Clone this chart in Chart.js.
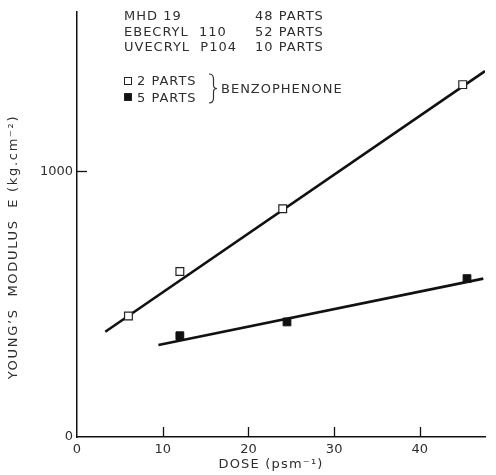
<!DOCTYPE html>
<html>
<head>
<meta charset="utf-8">
<script src="https://cdn.jsdelivr.net/npm/chart.js@4.4.0/dist/chart.umd.min.js"></script>
<style>
  body{margin:0;background:#fff;}
  #wrap{position:relative;width:496px;height:475px;}
  canvas{position:absolute;left:0;top:0;}
  .t{position:absolute;font-family:"DejaVu Sans",sans-serif;font-size:13px;line-height:14px;color:#2e2e2e;letter-spacing:1px;white-space:nowrap;}
  .sq{position:absolute;width:6px;height:6px;border:1.2px solid #222;background:#fff;}
  .sq.f{background:#111;}
</style>
</head>
<body>
<div id="wrap">
  <canvas id="chart" width="496" height="475"></canvas>
  <div class="t" style="left:124px;top:9px">MHD 19</div>
  <div class="t" style="left:124px;top:25px">EBECRYL&nbsp; 110</div>
  <div class="t" style="left:124px;top:40px">UVECRYL&nbsp; P104</div>
  <div class="t" style="left:255px;top:9px">48 PARTS</div>
  <div class="t" style="left:255px;top:25px">52 PARTS</div>
  <div class="t" style="left:255px;top:40px">10 PARTS</div>
  <div class="sq" style="left:124px;top:77px"></div>
  <div class="sq f" style="left:124px;top:93px"></div>
  <div class="t" style="left:137px;top:74px">2 PARTS</div>
  <div class="t" style="left:137px;top:91px">5 PARTS</div>
  <svg style="position:absolute;left:0;top:0" width="496" height="120">
    <path d="M209,74 Q213.5,74 213.5,79 L213.5,85 Q213.5,88.5 217,88.5 Q213.5,88.5 213.5,92 L213.5,98 Q213.5,103 209,103" fill="none" stroke="#333" stroke-width="1.2"/>
  </svg>
  <div class="t" style="left:221px;top:82px">BENZOPHENONE</div>
</div>
<script>
// data
const dose2 = [6, 12, 24, 45];
const modulus2 = [455, 623, 859, 1326];
const dose5 = [12, 24.5, 45.5];
const modulus5 = [381, 433, 596];
// fitted lines (end points)
const fit2Dose = [3.3, 47.6];
const fit2Mod = [396, 1377];
const fit5Dose = [9.5, 47.4];
const fit5Mod = [346, 596];
// axis ticks
const xTicks = [0, 10, 20, 30, 40];
const yTicks = [0, 1000];

const FONT = '"DejaVu Sans", sans-serif';
const INK = '#111';
const TXT = '#2e2e2e';

const pts = (xs, ys) => xs.map((x, i) => ({x, y: ys[i]}));

// tick marks pointing into the plot, plus axis titles
const extras = {
  id: 'extras',
  afterDraw(chart){
    const {ctx, scales:{x, y}, chartArea:a} = chart;
    ctx.save();
    ctx.strokeStyle = INK; ctx.lineWidth = 1.3;
    xTicks.filter(v => v > 0).forEach(v => {
      const px = Math.round(x.getPixelForValue(v)) + 0.5;
      ctx.beginPath(); ctx.moveTo(px, a.bottom); ctx.lineTo(px, a.bottom - 10); ctx.stroke();
    });
    yTicks.filter(v => v > 0).forEach(v => {
      const py = Math.round(y.getPixelForValue(v)) + 0.5;
      ctx.beginPath(); ctx.moveTo(a.left, py); ctx.lineTo(a.left + 10, py); ctx.stroke();
    });
    ctx.fillStyle = TXT;
    ctx.font = '13px ' + FONT;
    ctx.letterSpacing = '1.2px';
    ctx.textAlign = 'center'; ctx.textBaseline = 'middle';
    ctx.fillText('DOSE (psm\u207B\u00B9)', 271, 465);
    ctx.letterSpacing = '1.7px';
    ctx.translate(14, 247); ctx.rotate(-Math.PI / 2);
    ctx.fillText('YOUNG\u2019S  MODULUS  E (kg.cm\u207B\u00B2)', 0, 0);
    ctx.restore();
  }
};

new Chart(document.getElementById('chart'), {
  type: 'scatter',
  data: {
    datasets: [
      {data: pts(dose2, modulus2), pointStyle: 'rect', pointRadius: 5.5, backgroundColor: '#fff', borderColor: '#222', borderWidth: 1.2, order: 0},
      {data: pts(dose5, modulus5), pointStyle: 'rect', pointRadius: 5.5, backgroundColor: INK, borderColor: INK, borderWidth: 1, order: 0},
      {data: pts(fit2Dose, fit2Mod), showLine: true, pointRadius: 0, borderColor: INK, borderWidth: 2.6, order: 1},
      {data: pts(fit5Dose, fit5Mod), showLine: true, pointRadius: 0, borderColor: INK, borderWidth: 2.6, order: 1}
    ]
  },
  options: {
    responsive: false, animation: false,
    layout: {padding: {top: 8, right: 11}},
    plugins: {legend: {display: false}, tooltip: {enabled: false}},
    scales: {
      x: {
        type: 'linear', min: 0, max: 47.6,
        afterBuildTicks: s => { s.ticks = xTicks.map(v => ({value: v})); },
        afterFit: s => { s.height = 38; },
        ticks: {color: TXT, font: {family: FONT, size: 13}, padding: 5, maxRotation: 0},
        grid: {drawOnChartArea: false, drawTicks: false},
        border: {color: INK, width: 1.5}
      },
      y: {
        min: 0, max: 1600,
        afterBuildTicks: s => { s.ticks = yTicks.map(v => ({value: v})); },
        afterFit: s => { s.width = 77; },
        ticks: {color: TXT, font: {family: FONT, size: 13}, padding: 4, callback: v => String(v)},
        grid: {drawOnChartArea: false, drawTicks: false},
        border: {color: INK, width: 1.5}
      }
    }
  },
  plugins: [extras]
});
</script>
</body>
</html>
